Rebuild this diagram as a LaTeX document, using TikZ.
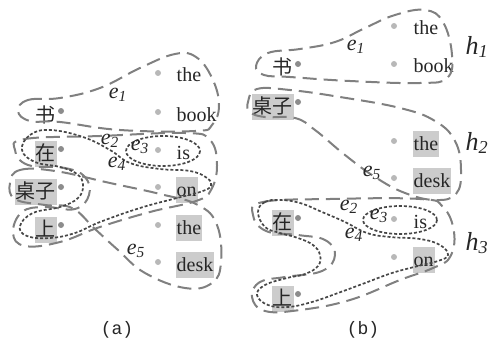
\documentclass[tikz,border=0pt]{standalone}
\usepackage{fontspec}
\setmainfont{Liberation Serif}
\setmonofont{Liberation Mono}
\newfontfamily\cjk{Noto Sans CJK SC}
\usetikzlibrary{positioning}
\tikzset{
  wd/.style={text=black!85,inner xsep=0.4pt,inner ysep=1pt,text height=8.5pt,text depth=2.5pt,font=\fontsize{10}{12}\selectfont},
  hl/.style={wd,fill=gray!40},
  zhdot/.style={circle,fill=black!45,inner sep=0pt,minimum size=3pt},
  endot/.style={circle,fill=black!28,inner sep=0pt,minimum size=3pt},
  hedge/.style={draw=black!50,line width=1pt,dash pattern=on 7pt off 3.5pt},
  sedge/.style={draw=black!72,line width=0.85pt,dash pattern=on 1.5pt off 1pt},
  elab/.style={text=black!85,font=\fontsize{11}{12}\selectfont\itshape},
  hlab/.style={text=black!85,anchor=east,inner sep=0.5pt,font=\fontsize{13}{14}\selectfont\itshape}
}
\newcommand{\elabel}[1]{e\textsubscript{#1}}
\begin{document}
\begin{tikzpicture}[x=0.5pt,y=-0.5pt]
\useasboundingbox (0,0) rectangle (491,342);
% ---- (a)
\foreach \n/\w/\y/\s in {aS/书/111/wd,aZ/在/149/hl,aD/桌子/187/hl,aU/上/225/hl}{
  \node[zhdot] (\n d) at (61,\y) {};
  \node[\s,anchor=east,font=\cjk\fontsize{10}{12}\selectfont] (\n) at (57,\y+5) {\w};
}
\foreach \n/\w/\y/\s in {aT/the/73/wd,aB/book/112/wd,aI/is/150/wd,aO/on/187/hl,aH/the/225/hl,aK/desk/262/hl}{
  \node[endot] (\n d) at (158,\y) {};
  \node[\s,anchor=west] (\n) at (175.5,\y+3) {\w};
}
\draw[hedge] plot[smooth cycle,tension=0.7] coordinates {(18,111) (28,100) (60,98) (100,88) (140,68) (175,54) (196,57) (212,78) (219,105) (212,125) (195,131) (120,130) (60,122) (30,121)};
\draw[hedge] plot[smooth cycle,tension=0.7] coordinates {(15,150) (25,139) (100,136) (185,133) (210,140) (217,165) (211,190) (196,201) (150,212) (100,227) (60,242) (25,246) (13,233) (22,212) (45,207) (75,209) (89,195) (85,177) (65,168) (28,165)};
\draw[hedge] plot[smooth cycle,tension=0.7] coordinates {(10,183) (20,170) (55,171) (110,183) (160,194) (198,205) (217,225) (221,262) (212,283) (185,288) (145,273) (118,250) (95,229) (72,208) (45,205) (15,199)};
\draw[sedge] plot[smooth cycle,tension=0.7] coordinates {(22,150) (30,135) (50,130) (83,137) (110,150) (130,163) (160,169) (190,171) (207,178) (211,186) (200,192) (177,198) (140,208) (100,222) (75,233) (50,238) (27,236) (20,226) (33,213) (60,207) (78,198) (83,185) (77,174) (60,167) (35,162)};
\draw[sedge] (163,151) ellipse [x radius=37,y radius=15];
\node[elab] (ae1) at (118,95) {\elabel{1}};
\node[elab] (ae2) at (110,141) {\elabel{2}};
\node[elab] (ae3) at (140,147) {\elabel{3}};
\node[elab] (ae4) at (117,164) {\elabel{4}};
\node[elab] (ae5) at (136,251) {\elabel{5}};
\node[font=\ttfamily\fontsize{9}{10}\selectfont,text=black!85] (capa) at (117,330) {(a)};
% ---- (b)
\foreach \n/\w/\y/\s in {bS/书/64/wd,bD/桌子/102/hl,bZ/在/218/hl,bU/上/294/hl}{
  \node[zhdot] (\n d) at (298,\y) {};
  \node[\s,anchor=east,font=\cjk\fontsize{10}{12}\selectfont] (\n) at (294,\y+5) {\w};
}
\foreach \n/\w/\y/\s in {bT/the/26/wd,bB/book/64/wd,bH/the/141/hl,bK/desk/178/hl,bI/is/219/wd,bO/on/257/hl}{
  \node[endot] (\n d) at (394,\y) {};
  \node[\s,anchor=west] (\n) at (412.5,\y+3) {\w};
}
\draw[hedge] plot[smooth cycle,tension=0.7] coordinates {(256,66) (268,53) (300,49) (335,42) (365,28) (395,15) (425,10) (443,22) (452,55) (447,78) (420,83) (350,81) (290,77) (264,75)};
\draw[hedge] plot[smooth cycle,tension=0.7] coordinates {(248,102) (257,89) (290,90) (340,97) (400,108) (435,121) (455,141) (461,170) (456,194) (435,200) (405,193) (375,177) (345,155) (315,130) (295,118) (265,117) (250,112)};
\draw[hedge] plot[smooth cycle,tension=0.7] coordinates {(253,215) (263,202) (330,199) (420,199) (443,207) (454,232) (450,257) (433,268) (400,280) (350,300) (300,310) (265,311) (252,297) (260,282) (285,277) (322,271) (335,255) (325,240) (298,235) (266,231)};
\draw[sedge] plot[smooth cycle,tension=0.7] coordinates {(258,212) (265,202) (280,200) (300,203) (322,212) (345,222) (367,233) (390,237) (420,239) (440,245) (448,255) (438,261) (418,266) (392,273) (365,283) (338,293) (312,302) (288,307) (268,305) (257,295) (265,285) (287,278) (305,274) (318,266) (320,255) (313,245) (298,238) (280,233) (265,227)};
\draw[sedge] (400,220) ellipse [x radius=37,y radius=14];
\node[elab] (be1) at (356,47) {\elabel{1}};
\node[elab] (be2) at (349,207) {\elabel{2}};
\node[elab] (be3) at (379,216) {\elabel{3}};
\node[elab] (be4) at (354,235) {\elabel{4}};
\node[elab] (be5) at (372,173) {\elabel{5}};
\node[hlab] (h1) at (490,47) {h\textsubscript{1}};
\node[hlab] (h2) at (490,143) {h\textsubscript{2}};
\node[hlab] (h3) at (490,243) {h\textsubscript{3}};
\node[font=\ttfamily\fontsize{9}{10}\selectfont,text=black!85] (capb) at (363,330) {(b)};
\end{tikzpicture}
\end{document}
